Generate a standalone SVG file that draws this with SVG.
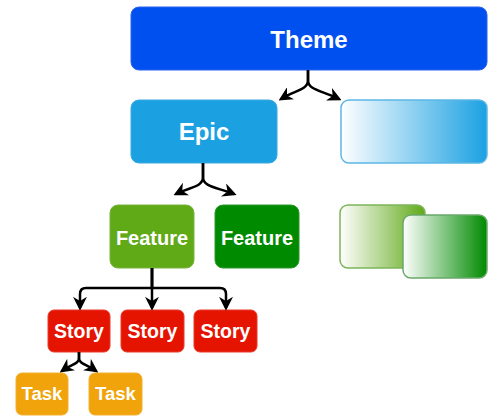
<svg xmlns="http://www.w3.org/2000/svg" width="488" height="417" viewBox="0 0 488 417">
<defs>
<linearGradient id="gBlue" x1="0" y1="0" x2="1" y2="0"><stop offset="0" stop-color="#ffffff"/><stop offset="1" stop-color="#1ba1e2"/></linearGradient>
<linearGradient id="gLight" x1="0" y1="0" x2="1" y2="0"><stop offset="0" stop-color="#ffffff"/><stop offset="1" stop-color="#60a917"/></linearGradient>
<linearGradient id="gDark" x1="0" y1="0" x2="1" y2="0"><stop offset="0" stop-color="#ffffff"/><stop offset="1" stop-color="#008a00"/></linearGradient>
<marker id="arr" viewBox="0 0 10 10" refX="8" refY="5" markerWidth="14" markerHeight="14" markerUnits="userSpaceOnUse" orient="auto">
<path d="M0,0 L10,5 L0,10 L3,5 Z" fill="#000"/>
</marker>
</defs>
<style>
.lbl{font-family:"Liberation Sans",Arial,sans-serif;font-weight:bold;fill:#fff;text-anchor:middle}
.edge{fill:none;stroke:#000;stroke-width:2.5;marker-end:url(#arr)}
</style>
<g id="theme"><rect x="131" y="7" width="356" height="63" rx="8" fill="#0050ef" stroke="#2a62ee" stroke-width="1"/><text class="lbl" x="309" y="48" font-size="24">Theme</text></g>
<g id="epic"><rect x="131" y="100" width="146" height="63" rx="8" fill="#1ba1e2" stroke="#3aa9e2" stroke-width="1"/><text class="lbl" x="204" y="140" font-size="24">Epic</text></g>
<g id="blank-epic"><rect x="341" y="100" width="146" height="63" rx="8" fill="url(#gBlue)" stroke="#5cb6e6" stroke-width="1.5"/></g>
<g id="feature1"><rect x="110" y="205" width="84" height="63" rx="8" fill="#60a917" stroke="#78b43a" stroke-width="1"/><text class="lbl" x="152" y="245" font-size="20">Feature</text></g>
<g id="feature2"><rect x="215" y="205" width="84" height="63" rx="8" fill="#008a00" stroke="#2a9a2a" stroke-width="1"/><text class="lbl" x="257" y="245" font-size="20">Feature</text></g>
<g id="blank-feature1"><rect x="340" y="205" width="85" height="63" rx="8" fill="url(#gLight)" stroke="#7cb55a" stroke-width="1.5"/></g>
<g id="blank-feature2"><rect x="403" y="215" width="84" height="63" rx="8" fill="url(#gDark)" stroke="#6aa86a" stroke-width="1.5"/></g>
<g id="story1"><rect x="48" y="310" width="62" height="42" rx="6" fill="#e51400" stroke="#e83a2a" stroke-width="1"/><text class="lbl" x="79" y="338" font-size="19.5">Story</text></g>
<g id="story2"><rect x="121" y="310" width="63" height="42" rx="6" fill="#e51400" stroke="#e83a2a" stroke-width="1"/><text class="lbl" x="152.5" y="338" font-size="19.5">Story</text></g>
<g id="story3"><rect x="194" y="310" width="63" height="42" rx="6" fill="#e51400" stroke="#e83a2a" stroke-width="1"/><text class="lbl" x="225.5" y="338" font-size="19.5">Story</text></g>
<g id="task1"><rect x="16" y="373" width="52" height="42" rx="6" fill="#f0a30a" stroke="#f2b030" stroke-width="1"/><text class="lbl" x="42" y="400" font-size="18.5">Task</text></g>
<g id="task2"><rect x="89" y="373" width="53" height="42" rx="6" fill="#f0a30a" stroke="#f2b030" stroke-width="1"/><text class="lbl" x="115.5" y="400" font-size="18.5">Task</text></g>
<g id="connectors">
<path class="edge" d="M308,70 V80 C308,90 296,90 281,99"/>
<path class="edge" d="M308,70 V80 C308,90 320,90 339,99"/>
<path class="edge" d="M203,163 V177 C203,187 190,187 176,194"/>
<path class="edge" d="M203,163 V177 C203,187 216,187 234,194"/>
<path class="edge" d="M152,268 V288 H86 Q80,288 80,294 V308"/>
<path class="edge" d="M152,268 V308"/>
<path class="edge" d="M152,268 V288 H220 Q226,288 226,294 V308"/>
<path class="edge" d="M79,352 V358 C79,364 72,364 62,371"/>
<path class="edge" d="M79,352 V358 C79,364 86,364 96,371"/>
</g>
</svg>
